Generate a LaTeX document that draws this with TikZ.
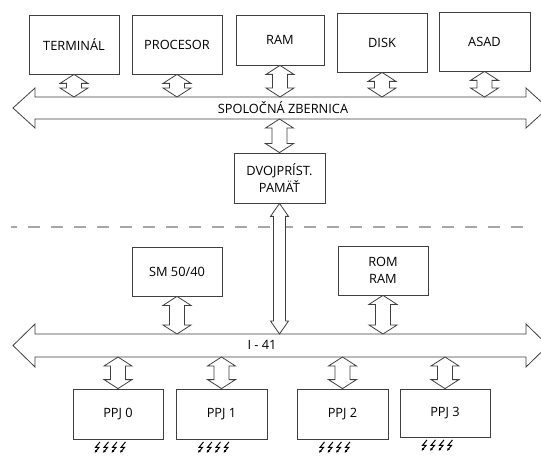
\documentclass[tikz,border=0pt]{standalone}
\usepackage{fontspec}
\setmainfont{Open Sans}
\usetikzlibrary{calc,arrows.meta}
\tikzset{
  unit/.style={draw=black!75, line width=0.8pt, minimum width=90pt, minimum height=59pt,
    inner sep=0pt, align=center, text=black, font=\fontsize{12.8}{17.5}\selectfont},
  blockarrow/.style={draw=black!75, line width=0.8pt, fill=white},
  buslabel/.style={text=black, inner sep=0pt, font=\fontsize{12.8}{14}\selectfont},
  spark/.style={line width=1pt, black, line join=miter, -{Latex[length=2.8pt,width=2.8pt]}}
}
\newcommand\dblink[5]{%
  \draw[blockarrow] let \p1=(#1), \p2=(#2) in
    (\x1,\y1) -- (\x1+#3pt,\y1-#5pt) -- (\x1+#4pt,\y1-#5pt) -- (\x1+#4pt,\y2+#5pt)
    -- (\x1+#3pt,\y2+#5pt) -- (\x1,\y2) -- (\x1-#3pt,\y2+#5pt) -- (\x1-#4pt,\y2+#5pt)
    -- (\x1-#4pt,\y1-#5pt) -- (\x1-#3pt,\y1-#5pt) -- cycle;}
\begin{document}
\begin{tikzpicture}[x=1pt,y=-1pt]
\clip (0,0) rectangle (541,457);
\fill[white] (0,0) rectangle (541,457);

\node[unit] (term) at (74,44.5) {TERMINÁL};
\node[unit] (proc) at (177,44.5) {PROCESOR};
\node[unit, minimum width=88pt, minimum height=50pt] (ram) at (280,40) {RAM};
\node[unit] (disk) at (382,42.5) {DISK};
\node[unit, minimum width=91pt] (asad) at (484.5,41.5) {ASAD};

\coordinate (bus1n) at (0,97);
\coordinate (bus1s) at (0,119);
\draw[blockarrow] (35,97) -- (526,97) -- (526,88) -- (548,108) -- (526,128) -- (526,119)
  -- (35,119) -- (35,128) -- (13,108) -- (35,88) -- cycle;
\node[buslabel] (bus1lbl) at (283,108) {SPOLOČNÁ ZBERNICA};

\foreach \u in {term,proc,ram,disk,asad}
  \dblink{\u.south}{\u.south |- bus1n}{14}{7.5}{9};

\node[unit, minimum width=91pt, minimum height=50pt] (dual) at (279.5,178) {DVOJPRÍST.\\PAMÄŤ};
\dblink{dual.north |- bus1s}{dual.north}{14}{7.5}{9};

\draw[gray!70, line width=1.2pt, dash pattern=on 12pt off 11pt, dash phase=6pt] (11,227) -- (527,227);

\node[unit, minimum height=49pt] (sm) at (177,271.5) {SM 50/40};
\node[unit, minimum height=49pt] (rom) at (383,270.5) {ROM\\RAM};

\coordinate (bus2n) at (0,334);
\coordinate (bus2s) at (0,357);
\draw[blockarrow] (35,334) -- (526,334) -- (526,324) -- (548,345.5) -- (526,367) -- (526,357)
  -- (35,357) -- (35,367) -- (13,345.5) -- (35,324) -- cycle;
\node[buslabel] (bus2lbl) at (262,345) {I - 41};

\dblink{dual.south}{dual.south |- bus2n}{9}{6}{13};
\dblink{sm.south}{sm.south |- bus2n}{14}{7.5}{9};
\dblink{rom.south}{rom.south |- bus2n}{14}{7.5}{9};

\node[unit, minimum height=50pt] (ppj0) at (118,414) {PPJ 0};
\node[unit, minimum width=91pt, minimum height=50pt] (ppj1) at (221.5,414) {PPJ 1};
\node[unit, minimum width=91pt, minimum height=50pt] (ppj2) at (342.5,414) {PPJ 2};
\node[unit, minimum height=48pt] (ppj3) at (445,413) {PPJ 3};

\foreach \u in {ppj0,ppj1,ppj2,ppj3} {
  \dblink{\u.north |- bus2s}{\u.north}{14}{7.5}{9};
  \foreach \k in {0,...,3}
    \draw[spark] ($(\u.south)+(-18+\k*8.5,2.5)$) -- ++(-4.5,5.5) -- ++(3.5,0) -- ++(-4.5,5.5);
}
\end{tikzpicture}
\end{document}
